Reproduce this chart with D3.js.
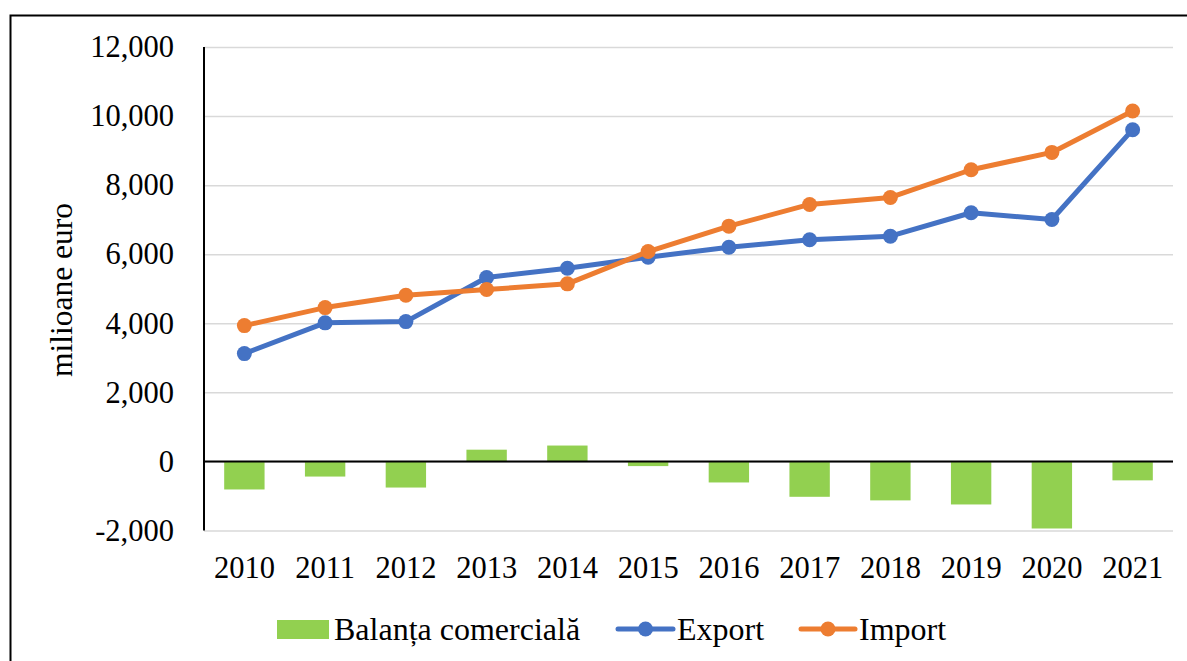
<!DOCTYPE html>
<html>
<head>
<meta charset="utf-8">
<script src="https://cdn.jsdelivr.net/npm/d3@7"></script>
</head>
<body style="margin:0;padding:0;background:#fff">
<div id="chart"></div>
<script>
/*eslint-disable*/

// values, milioane euro
const years = ["2010", "2011", "2012", "2013", "2014", "2015", "2016", "2017", "2018", "2019", "2020", "2021"];
const exportValues = [3122, 4012, 4049, 5325, 5594, 5913, 6203, 6417, 6522, 7200, 7006, 9606];
const importValues = [3933, 4455, 4812, 4977, 5142, 6078, 6812, 7441, 7643, 8446, 8948, 10145];
const balanceValues = [-812, -438, -756, 340, 460, -135, -609, -1024, -1128, -1246, -1942, -548];
const yTicks = [-2000, 0, 2000, 4000, 6000, 8000, 10000, 12000];
const seriesNames = ["Balanța comercială", "Export", "Import"];
const yTitle = "milioane euro";

const W = 1187, H = 661;
const plot = { left: 204, right: 1173, top: 47, bottom: 530.5 };
const colors = { bar: "#92D050", export: "#4472C4", import: "#ED7D31" };
const FONT = "'Liberation Serif', 'Times New Roman', serif";

const svg = d3.select("#chart").append("svg")
  .attr("width", W)
  .attr("height", H)
  .style("display", "block");

// outer frame, cut off at the right and bottom like the screenshot
svg.append("rect")
  .attr("x", 10.5).attr("y", 15.5)
  .attr("width", 1300).attr("height", 800)
  .attr("fill", "none")
  .attr("stroke", "#000")
  .attr("stroke-width", 2);

const x = d3.scaleBand().domain(years).range([plot.left, plot.right]).padding(0);
const y = d3.scaleLinear().domain([-2000, 12000]).range([plot.bottom, plot.top]);

const fmt = v => d3.format(",")(v).replace("\u2212", "-");

const styleText = sel => sel
  .style("font-family", FONT)
  .style("font-size", "30.5px")
  .style("fill", "#000");

// gridlines + y tick labels
const yAxis = svg.append("g")
  .attr("transform", `translate(${plot.left},0)`)
  .call(d3.axisLeft(y)
    .tickValues(yTicks)
    .tickSize(-(plot.right - plot.left))
    .tickPadding(30)
    .tickFormat(fmt));
yAxis.select(".domain").remove();
yAxis.selectAll(".tick line")
  .attr("stroke", "#D9D9D9")
  .attr("stroke-width", 1.5);
yAxis.selectAll(".tick text").call(styleText);

// bars
const barW = x.bandwidth() * 0.5;
svg.append("g")
  .selectAll("rect")
  .data(balanceValues)
  .enter()
  .append("rect")
    .attr("x", (d, i) => x(years[i]) + (x.bandwidth() - barW) / 2)
    .attr("y", d => y(Math.max(0, d)))
    .attr("width", barW)
    .attr("height", d => Math.abs(y(d) - y(0)))
    .attr("fill", colors.bar);

// axis lines
svg.append("line")
  .attr("x1", plot.left).attr("x2", plot.right)
  .attr("y1", y(0)).attr("y2", y(0))
  .attr("stroke", "#000").attr("stroke-width", 2);
svg.append("line")
  .attr("x1", plot.left).attr("x2", plot.left)
  .attr("y1", plot.top).attr("y2", plot.bottom)
  .attr("stroke", "#000").attr("stroke-width", 2);

// x labels
const xAxis = svg.append("g")
  .attr("transform", "translate(0,556.5)")
  .call(d3.axisBottom(x).tickSize(0).tickPadding(0));
xAxis.select(".domain").remove();
xAxis.selectAll(".tick text").call(styleText);

// lines
const cx = (d, i) => x(years[i]) + x.bandwidth() / 2;
const line = d3.line().x(cx).y(d => y(d));

const drawSeries = (values, color) => {
  const g = svg.append("g");
  g.append("path")
    .datum(values)
    .attr("d", line)
    .attr("fill", "none")
    .attr("stroke", color)
    .attr("stroke-width", 5)
    .attr("stroke-linejoin", "round");
  g.selectAll("circle")
    .data(values)
    .enter()
    .append("circle")
      .attr("cx", cx)
      .attr("cy", d => y(d))
      .attr("r", 7.5)
      .attr("fill", color);
};
drawSeries(exportValues, colors.export);
drawSeries(importValues, colors.import);

// y title
svg.append("text")
  .attr("transform", "translate(72,290) rotate(-90)")
  .attr("text-anchor", "middle")
  .call(styleText)
  .style("font-size", "31.5px")
  .text(yTitle);

// legend
const legendY = 629;
const legend = svg.append("g");
legend.append("rect")
  .attr("x", 277).attr("y", legendY - 9)
  .attr("width", 52).attr("height", 19)
  .attr("fill", colors.bar);
legend.append("text")
  .attr("x", 334).attr("y", legendY)
  .attr("dy", "0.35em")
  .call(styleText)
  .style("font-size", "32px")
  .text(seriesNames[0]);

const legendLine = (x0, x1, color, label) => {
  legend.append("line")
    .attr("x1", x0).attr("x2", x1)
    .attr("y1", legendY).attr("y2", legendY)
    .attr("stroke", color).attr("stroke-width", 5)
    .attr("stroke-linecap", "round");
  legend.append("circle")
    .attr("cx", (x0 + x1) / 2).attr("cy", legendY)
    .attr("r", 7.5).attr("fill", color);
  legend.append("text")
    .attr("x", x1 + 4).attr("y", legendY)
    .attr("dy", "0.35em")
    .call(styleText)
    .style("font-size", "32px")
    .text(label);
};
legendLine(618, 673, colors.export, seriesNames[1]);
legendLine(801, 855, colors.import, seriesNames[2]);
</script>
</body>
</html>
